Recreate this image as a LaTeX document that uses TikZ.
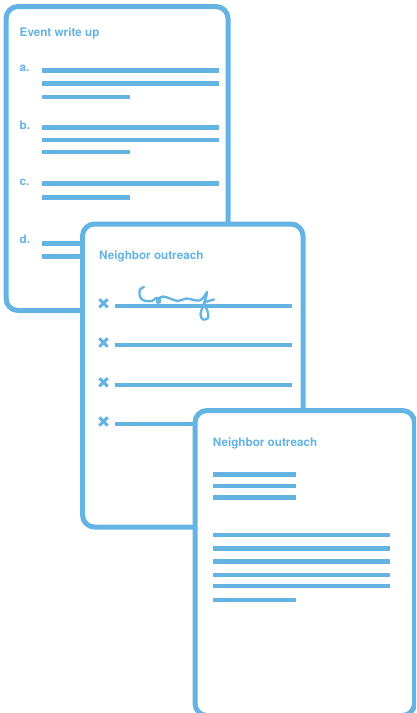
\documentclass[tikz,border=0pt]{standalone}
\usepackage{fontspec}
\setmainfont{TeX Gyre Heros}
\usetikzlibrary{positioning}
\definecolor{sheetblue}{HTML}{63B3E3}

\tikzset{
  sheet/.style={draw=sheetblue, line width=5pt, fill=white, rounded corners=12pt,
                inner sep=0pt, outer sep=0pt, anchor=north west},
  heading/.style={text=sheetblue, font=\bfseries\fontsize{11.7}{14}\selectfont,
                  anchor=base west, inner sep=0pt},
  rule/.style={draw=sheetblue, line width=4.6pt},
  tick/.style={draw=sheetblue, line width=3pt},
  scrawl/.style={draw=sheetblue, line width=2.3pt, line cap=round, line join=round}
}

\begin{document}
\begin{tikzpicture}[x=1pt, y=-1pt]
\useasboundingbox (0,0) rectangle (416,713);
\clip (0,0) rectangle (416,713);

% event write up
\node[sheet, minimum width=222pt, minimum height=304pt] (write) at (6,6.5) {};
\node[heading] (writetitle) at (19.5,36) {Event write up};
\foreach \lab/\y in {a/71.7, b/129.3, c/185.7, d/243.3}
  \node[heading] (item\lab) at (19.5,\y) {\lab.};
\foreach \y in {70.5, 83.5, 127.5, 140, 183.3, 243.5, 256.5}
  \draw[rule] (42,\y) -- (218.7,\y);
\foreach \y in {97, 152, 197.5}
  \draw[rule] (42,\y) -- (130,\y);

% neighbor outreach, sign-up sheet
\node[sheet, minimum width=220.5pt, minimum height=303pt] (signup) at (82.5,224) {};
\node[heading] (signuptitle) at (99,259) {Neighbor outreach};
\foreach \y in {305.8, 345, 384.8, 424} {
  \draw[rule] (115,\y) -- (292.3,\y);
  \draw[tick] (99.3,\y-6.6) -- (107.7,\y+1.6) (99.3,\y+1.6) -- (107.7,\y-6.6);
}
\draw[scrawl] plot[smooth, tension=0.55] coordinates {
  (144,287) (140,289.5) (139.5,294.5) (141.5,299) (146,301) (152,301) (156,298)
  (159.5,298.5) (160,302) (157,302.5) (158,299) (163,296.5) (170,298.5)
  (178,301) (186,298.5) (194,300) (200,300.5) (204.5,296) (207,292)
  (206,297.5) (203,306) (200.5,314.5) (203,319.5) (208,318) (207.5,311)
  (204,303.5) (208.5,301) (214,299.5)};

% neighbor outreach, letter
\node[sheet, minimum width=219.5pt, minimum height=305pt] (letter) at (195,410.5) {};
\node[heading] (lettertitle) at (212.7,446.5) {Neighbor outreach};
\foreach \y in {474.5, 486, 497.2, 599.8}
  \draw[rule] (213.3,\y) -- (295.7,\y);
\foreach \y in {534.8, 548.2, 561.5, 574.8, 586}
  \draw[rule] (213.3,\y) -- (390,\y);
\end{tikzpicture}
\end{document}
